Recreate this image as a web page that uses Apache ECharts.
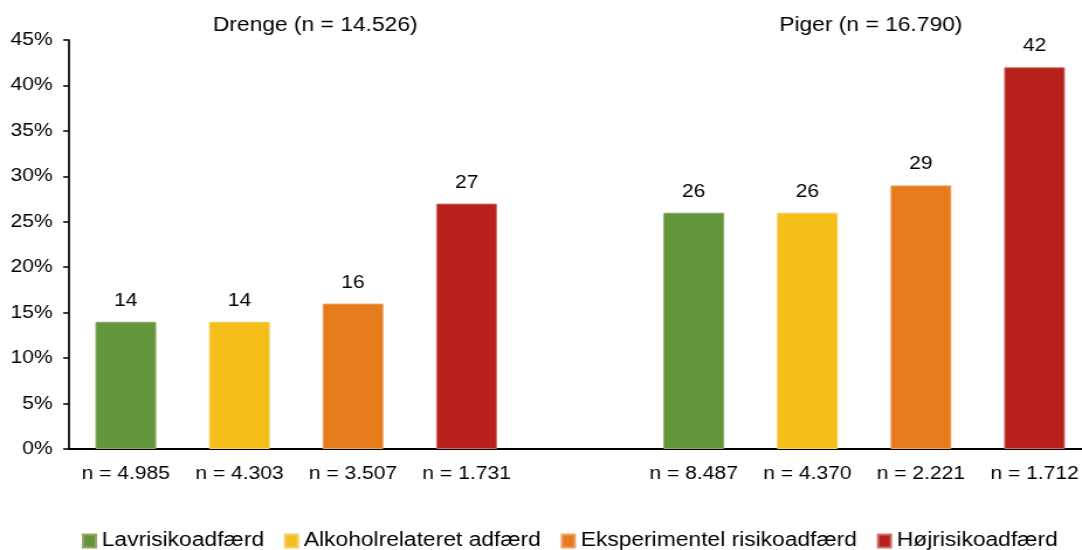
<!DOCTYPE html>
<html>
<head>
<meta charset="utf-8">
<script src="https://cdn.jsdelivr.net/npm/echarts@6/dist/echarts.min.js"></script>
<style>
  html, body { margin: 0; padding: 0; background: #fff; overflow: hidden; }
  #wrap { width: 1082px; height: 550px; overflow: hidden; }
  /* chart is laid out on a narrower canvas and widened to the page width */
  #chart { width: 945px; height: 550px; transform: scaleX(1.1697); transform-origin: 0 0; }
</style>
</head>
<body>
<div id="wrap"><div id="chart"></div></div>
<script>
// Group sample sizes shown under each bar (blank slot separates the two groups)
const nLabels = ['n = 4.985', 'n = 4.303', 'n = 3.507', 'n = 1.731', '', 'n = 8.487', 'n = 4.370', 'n = 2.221', 'n = 1.712'];
const groupTitles = ['Drenge (n = 14.526)', 'Piger (n = 16.790)'];
const behaviours = ['Lavrisikoadfærd', 'Alkoholrelateret adfærd', 'Eksperimentel risikoadfærd', 'Højrisikoadfærd'];
const drenge = [14, 14, 16, 27];
const piger = [26, 26, 29, 42];
const yTicks = [0, 5, 10, 15, 20, 25, 30, 35, 40, 45];

const colors = ['#62963B', '#F5BE19', '#E67B1C', '#B8201B'];
const borders = ['#93A766', '#F4CE68', '#EDA164', '#CE6E69'];
const FONT = '"Liberation Sans", Arial, sans-serif';

// Each behaviour gets its own series; it has a value in its Drenge slot and its Piger slot
const series = behaviours.map((name, i) => {
  const data = nLabels.map(() => '-');
  data[i] = drenge[i];
  data[5 + i] = piger[i];
  return {
    name,
    type: 'bar',
    stack: 'groups',
    barWidth: 52,
    data,
    itemStyle: { color: colors[i], borderColor: borders[i], borderWidth: 1 },
    label: {
      show: true,
      position: 'top',
      distance: 12,
      color: '#000',
      fontFamily: FONT,
      fontSize: 18
    }
  };
});

const chart = echarts.init(document.getElementById('chart'), null, { renderer: 'canvas' });
chart.setOption({
  animation: false,
  backgroundColor: '#fff',
  textStyle: { fontFamily: FONT },
  grid: { left: 59, top: 40, width: 874, height: 409, containLabel: false },
  graphic: [
    { type: 'text', x: 269.5, y: 25.5, style: { text: groupTitles[0], font: '19.5px ' + FONT, fill: '#000', textAlign: 'center', textVerticalAlign: 'middle' } },
    { type: 'text', x: 744.5, y: 25.5, style: { text: groupTitles[1], font: '19.5px ' + FONT, fill: '#000', textAlign: 'center', textVerticalAlign: 'middle' } }
  ],
  legend: {
    data: behaviours,
    left: 70,
    top: 531,
    padding: 0,
    itemWidth: 11,
    itemHeight: 13,
    itemGap: 17,
    icon: 'rect',
    textStyle: { fontFamily: FONT, fontSize: 19.5, color: '#000' }
  },
  xAxis: {
    type: 'category',
    data: nLabels,
    axisLine: { lineStyle: { color: '#000', width: 2 } },
    axisTick: { show: false },
    axisLabel: { interval: 0, margin: 16, color: '#000', fontFamily: FONT, fontSize: 18 }
  },
  yAxis: {
    type: 'value',
    min: yTicks[0],
    max: yTicks[yTicks.length - 1],
    interval: 5,
    splitLine: { show: false },
    axisLine: { show: true, lineStyle: { color: '#000', width: 1.7 } },
    axisTick: { show: true, length: 5, lineStyle: { color: '#000', width: 1.5 } },
    axisLabel: { margin: 14, color: '#000', fontFamily: FONT, fontSize: 18, formatter: '{value}%' }
  },
  series
});
</script>
</body>
</html>
